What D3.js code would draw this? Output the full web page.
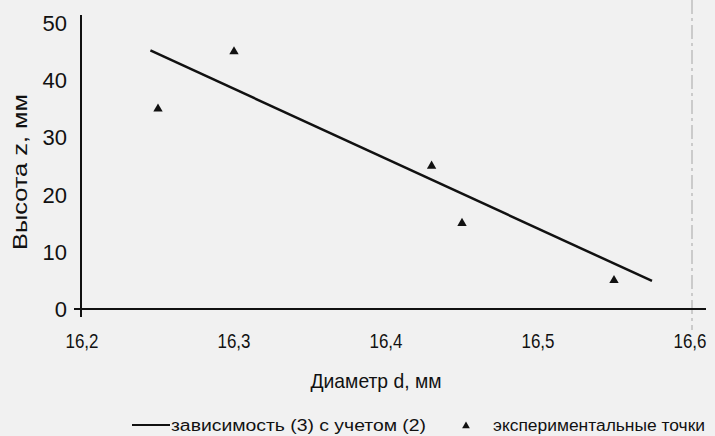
<!DOCTYPE html>
<html>
<head>
<meta charset="utf-8">
<script src="https://cdn.jsdelivr.net/npm/d3@7"></script>
<style>
  body { margin: 0; background: #f1f1f1; }
  svg { display: block; font-family: "Liberation Sans", Arial, sans-serif; }
</style>
</head>
<body>
<svg id="chart"></svg>
<script>
// экспериментальные точки
const expD = [16.25, 16.30, 16.43, 16.45, 16.55];
const expZ = [35, 45, 25, 15, 5];

// зависимость (3) с учетом (2) — концы прямой
const fitD = [16.245, 16.575];
const fitZ = [45.2, 4.9];

const xTicks = [16.2, 16.3, 16.4, 16.5, 16.6];
const yTicks = [0, 10, 20, 30, 40, 50];

const svg = d3.select("#chart")
  .attr("width", 715)
  .attr("height", 436);

svg.append("rect")
  .attr("width", 715)
  .attr("height", 436)
  .attr("fill", "#f1f1f1");

const x = d3.scaleLinear().domain([16.2, 16.6]).range([82, 690]);
const y = d3.scaleLinear().domain([0, 50]).range([309, 23]);

// вертикальная линия сгиба у правого края
svg.append("line")
  .attr("x1", x(16.6) + 2).attr("x2", x(16.6) + 2)
  .attr("y1", 0).attr("y2", 330)
  .attr("stroke", "#a5a5a5")
  .attr("stroke-width", 1)
  .attr("stroke-dasharray", "14,4,3,4");

// оси
svg.append("line")
  .attr("x1", 74).attr("x2", 706)
  .attr("y1", y(0)).attr("y2", y(0))
  .attr("stroke", "#111")
  .attr("stroke-width", 2);

svg.append("line")
  .attr("x1", x(16.2) - 1).attr("x2", x(16.2) - 1)
  .attr("y1", 15).attr("y2", 317)
  .attr("stroke", "#111")
  .attr("stroke-width", 2);

svg.append("g")
  .selectAll("text")
  .data(yTicks)
  .join("text")
  .attr("x", 67)
  .attr("y", d => y(d))
  .attr("dy", "0.36em")
  .attr("text-anchor", "end")
  .attr("fill", "#111")
  .style("font-size", "22px")
  .text(d => d);

svg.append("g")
  .selectAll("text")
  .data(xTicks)
  .join("text")
  .attr("x", d => x(d))
  .attr("y", 340)
  .attr("dy", "0.36em")
  .attr("text-anchor", "middle")
  .attr("fill", "#111")
  .style("font-size", "21px")
  .attr("textLength", 33)
  .attr("lengthAdjust", "spacingAndGlyphs")
  .text(d => d.toFixed(1).replace(".", ","));

// подписи осей
svg.append("text")
  .attr("transform", "translate(27,172) rotate(-90)")
  .attr("text-anchor", "middle")
  .attr("fill", "#111")
  .style("font-size", "21px")
  .attr("textLength", 156)
  .attr("lengthAdjust", "spacingAndGlyphs")
  .text("Высота z, мм");

svg.append("text")
  .attr("x", 376)
  .attr("y", 380)
  .attr("dy", "0.36em")
  .attr("text-anchor", "middle")
  .attr("fill", "#111")
  .style("font-size", "21px")
  .attr("textLength", 131)
  .attr("lengthAdjust", "spacingAndGlyphs")
  .text("Диаметр d, мм");

// расчетная прямая
const line = d3.line()
  .x(d => x(d[0]))
  .y(d => y(d[1]));

svg.append("path")
  .datum(d3.zip(fitD, fitZ))
  .attr("fill", "none")
  .attr("stroke", "#111")
  .attr("stroke-width", 2.5)
  .attr("d", line);

// экспериментальные точки
const tri = d3.symbol().type(d3.symbolTriangle).size(38);
svg.append("g")
  .selectAll("path")
  .data(d3.zip(expD, expZ))
  .join("path")
  .attr("transform", d => `translate(${x(d[0])},${y(d[1])})`)
  .attr("d", tri)
  .attr("fill", "#111");

// легенда
const leg = svg.append("g").attr("transform", "translate(0,425)");
leg.append("line")
  .attr("x1", 132).attr("x2", 170)
  .attr("stroke", "#111")
  .attr("stroke-width", 2);
leg.append("text")
  .attr("x", 171)
  .attr("dy", "0.36em")
  .attr("fill", "#111")
  .style("font-size", "16px")
  .attr("textLength", 255)
  .attr("lengthAdjust", "spacingAndGlyphs")
  .text("зависимость (3) с учетом (2)");
leg.append("path")
  .attr("transform", "translate(466,1)")
  .attr("d", d3.symbol().type(d3.symbolTriangle).size(26))
  .attr("fill", "#111");
leg.append("text")
  .attr("x", 493)
  .attr("dy", "0.36em")
  .attr("fill", "#111")
  .style("font-size", "16px")
  .attr("textLength", 212)
  .attr("lengthAdjust", "spacingAndGlyphs")
  .text("экспериментальные точки");
</script>
</body>
</html>
